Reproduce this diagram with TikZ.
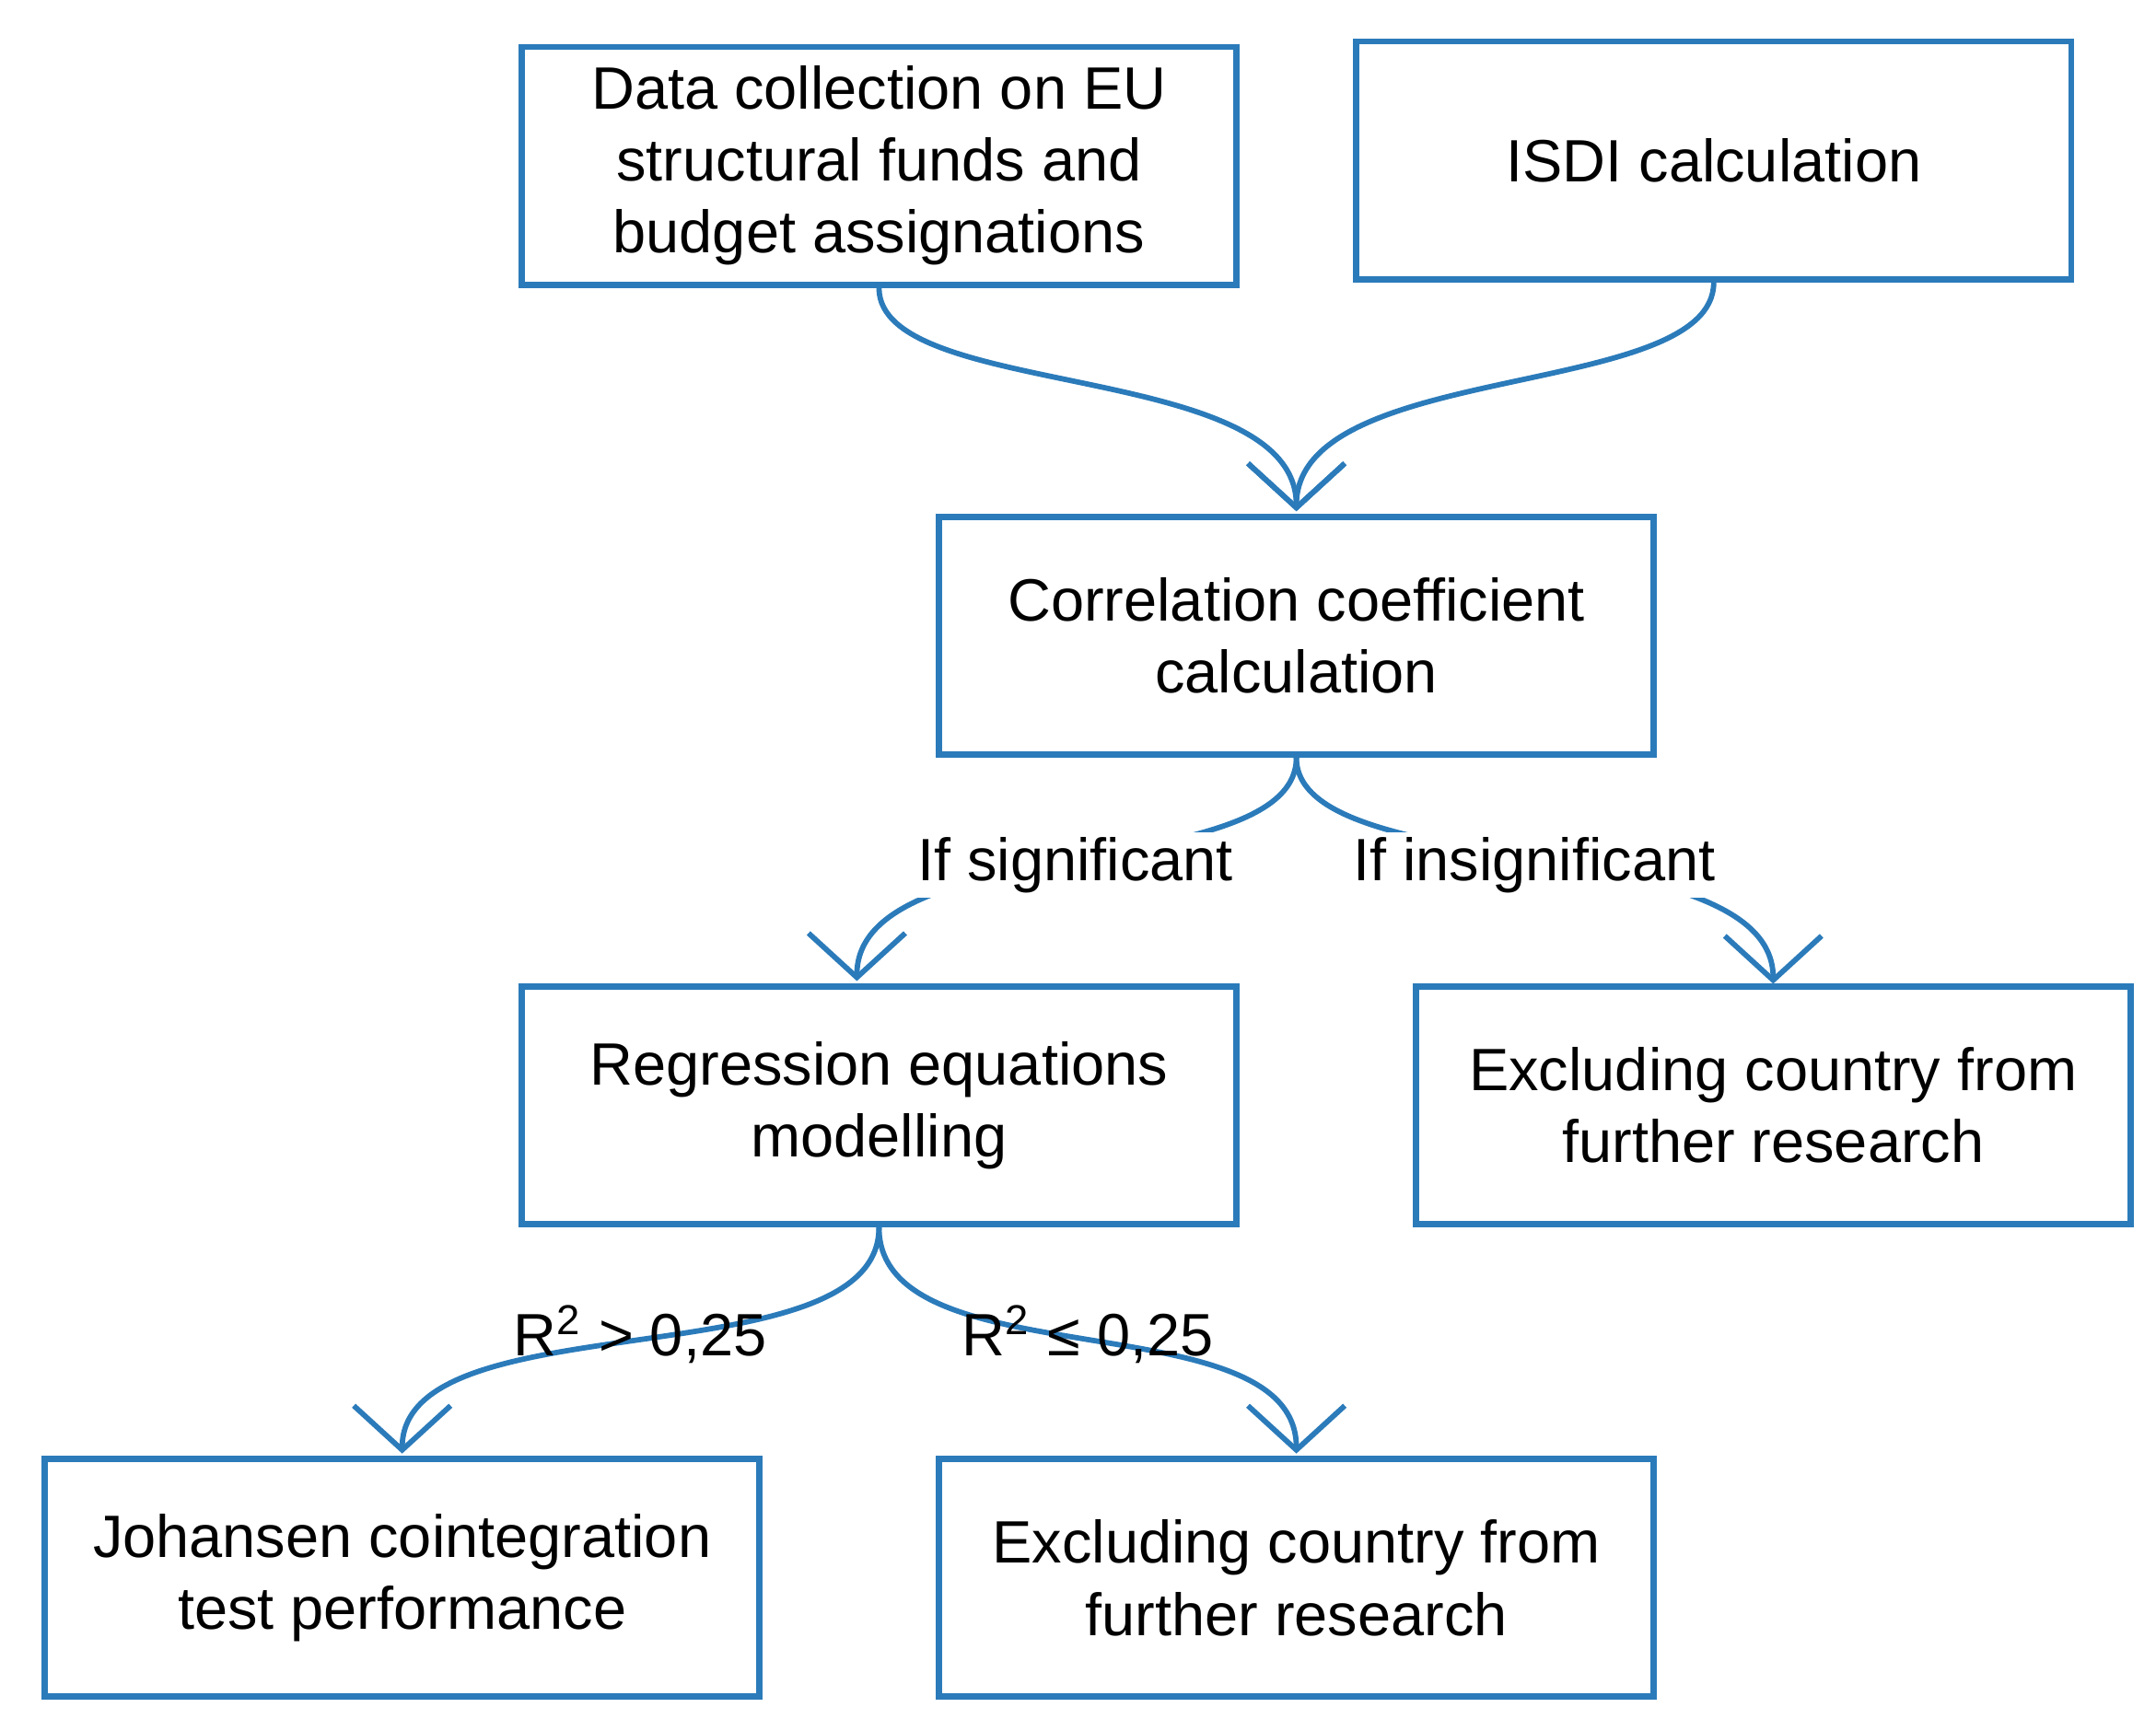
\documentclass[tikz,border=0pt]{standalone}
\usepackage{fontspec}
\setmainfont{Liberation Sans}
\usetikzlibrary{arrows.meta}
\definecolor{bl}{HTML}{2B7BBA}
\begin{document}
\begin{tikzpicture}[x=0.01cm,y=-0.01cm,
 box/.style={draw=bl,line width=1.3pt,minimum width=5.17cm,minimum height=1.72cm,align=center,inner sep=2pt,font=\fontsize{12.3}{14.8}\selectfont},
 con/.style={draw=bl,line width=1.1pt,-{Straight Barb[length=0.32cm,width=0.7cm,line width=1.1pt]}},
 lab/.style={font=\fontsize{12.3}{14.8}\selectfont,inner sep=1pt}]
\useasboundingbox (0,0) rectangle (1560,1244);
\node[box] (A) at (636,120) {Data collection on EU\\structural funds and\\budget assignations};
\node[box] (B) at (1240,116) {ISDI calculation};
\node[box] (C) at (938,460) {Correlation coefficient\\calculation};
\node[box] (D) at (636,800) {Regression equations\\modelling};
\node[box] (E) at (1283,800) {Excluding country from\\further research};
\node[box] (F) at (291,1142) {Johansen cointegration\\test performance};
\node[box] (G) at (938,1142) {Excluding country from\\further research};
\coordinate (t1) at (938,370);
\coordinate (t2) at (620,710);
\coordinate (t3) at (1283,712);
\coordinate (t4) at (291,1052);
\coordinate (t5) at (938,1052);
\draw[con] (A.south) .. controls (636,290) and (938,260) .. (t1);
\draw[con] (B.south) .. controls (1240,290) and (938,260) .. (t1);
\draw[con] (C.south) .. controls (938,640) and (620,600) .. (t2);
\draw[con] (C.south) .. controls (938,640) and (1283,600) .. (t3);
\node[lab,fill=white] (L1) at (778,626) {If significant};
\node[lab,fill=white] (L2) at (1110,626) {If insignificant};
\draw[con] (D.south) .. controls (636,1000) and (291,940) .. (t4);
\draw[con] (D.south) .. controls (636,1000) and (938,940) .. (t5);
\node[lab] (L3) at (463,966) {R\textsuperscript{2} > 0,25};
\node[lab] (L4) at (787,966) {R\textsuperscript{2} ≤ 0,25};
\end{tikzpicture}
\end{document}
